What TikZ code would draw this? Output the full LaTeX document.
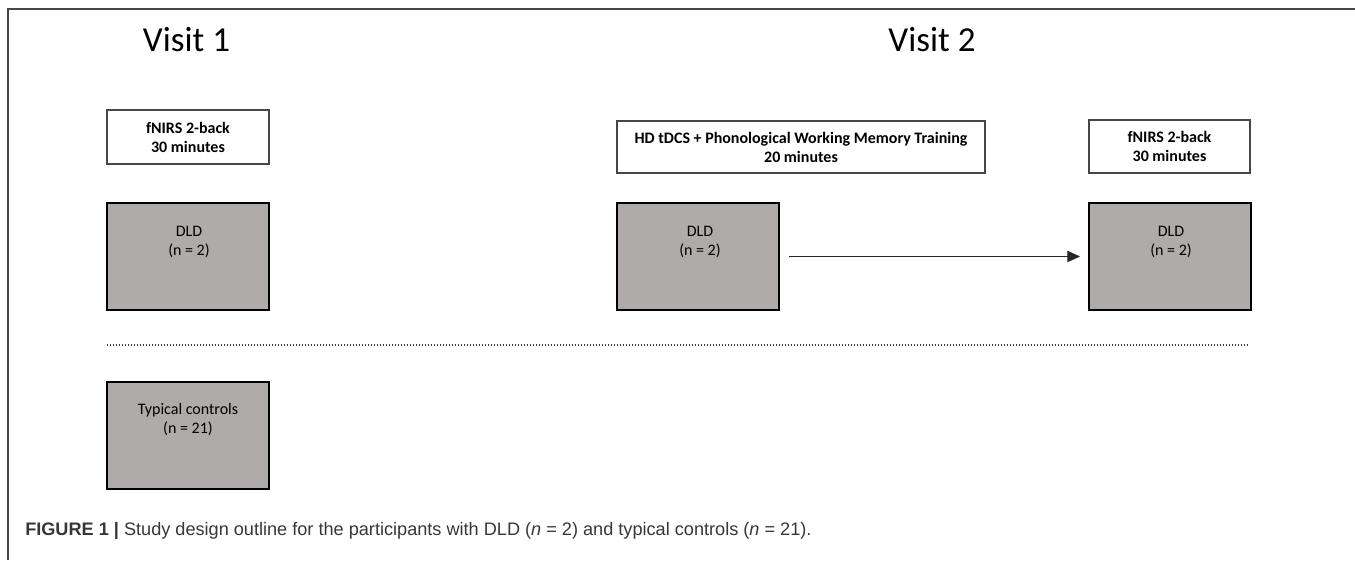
\documentclass[tikz,border=0pt]{standalone}
\usepackage{fontspec}
\setmainfont{Carlito}
\newfontfamily\capfont{Liberation Sans}
\usetikzlibrary{arrows.meta,calc}
\definecolor{boxgray}{RGB}{174,171,170}
\definecolor{framegray}{RGB}{70,70,70}
\definecolor{captext}{RGB}{55,55,55}
\begin{document}
\begin{tikzpicture}[x=0.75pt,y=-0.75pt,
  grpbox/.style={draw=black,line width=1.5pt,fill=boxgray,inner sep=0pt,minimum width=121.5pt,minimum height=80.25pt},
  taskbox/.style={draw=framegray,line width=0.8pt,fill=white,inner sep=0pt,align=center,font=\bfseries\fontsize{12}{14.25}\selectfont},
  grptext/.style={align=center,inner sep=0pt,font=\fontsize{12}{14.25}\selectfont},
  visit/.style={anchor=base,inner sep=0pt,font=\fontsize{26.3}{30}\selectfont},
  flow/.style={draw=black!85,line width=0.8pt,-{Triangle[length=9.5pt,width=8.5pt]}},
  sep/.style={line width=1pt,dash pattern=on 1pt off 1.25pt,draw=black!75}
]
\useasboundingbox (0,0) rectangle (1355,560);
% frame (open at right and bottom)
\coordinate (ftl) at (8,9);
\coordinate (ftr) at (1355,9);
\coordinate (fbl) at (8,560);
\draw[framegray,line width=1.3pt] (ftr) -- (ftl) -- (fbl);

% headings
\node[visit] (v1) at (186.5,52) {Visit 1};
\node[visit] (v2) at (932,52) {Visit 2};

% task boxes
\node[taskbox,minimum width=121.5pt,minimum height=40.5pt] (fn1) at (188,137) {fNIRS 2-back\\30 minutes};
\node[taskbox,minimum width=276pt,minimum height=39pt] (hd) at (801,147) {HD tDCS + Phonological Working Memory Training\\20 minutes};
\node[taskbox,minimum width=120.75pt,minimum height=39.75pt] (fn3) at (1169.5,146.5) {fNIRS 2-back\\30 minutes};

% group boxes
\node[grpbox] (dld1) at (188,256.5) {};
\node[grpbox] (dld2) at (698,256.5) {};
\node[grpbox] (dld3) at (1170,256.5) {};
\node[grpbox] (tc) at (188,435) {};

\node[grptext] (dld1t) at (189,241.5) {DLD\\(n = 2)};
\node[grptext] (dld2t) at (700,242) {DLD\\(n = 2)};
\node[grptext] (dld3t) at (1171,242) {DLD\\(n = 2)};
\node[grptext] (tct) at (188,420) {Typical controls\\(n = 21)};

% arrow
\draw[flow,shorten <=6.4pt,shorten >=6pt] (dld2.east) -- (dld3.west);

% dotted separator
\coordinate (sepa) at (107,345);
\coordinate (sepb) at (1249,345);
\draw[sep] (sepa) -- (sepb);

% caption
\node[anchor=base west,inner sep=0pt,text=captext,font=\capfont\fontsize{13.6}{16}\selectfont] (cap) at (25,535)
  {{\bfseries FIGURE 1 |} Study design outline for the participants with DLD (\textit{n} = 2) and typical controls (\textit{n} = 21).};
\end{tikzpicture}
\end{document}
